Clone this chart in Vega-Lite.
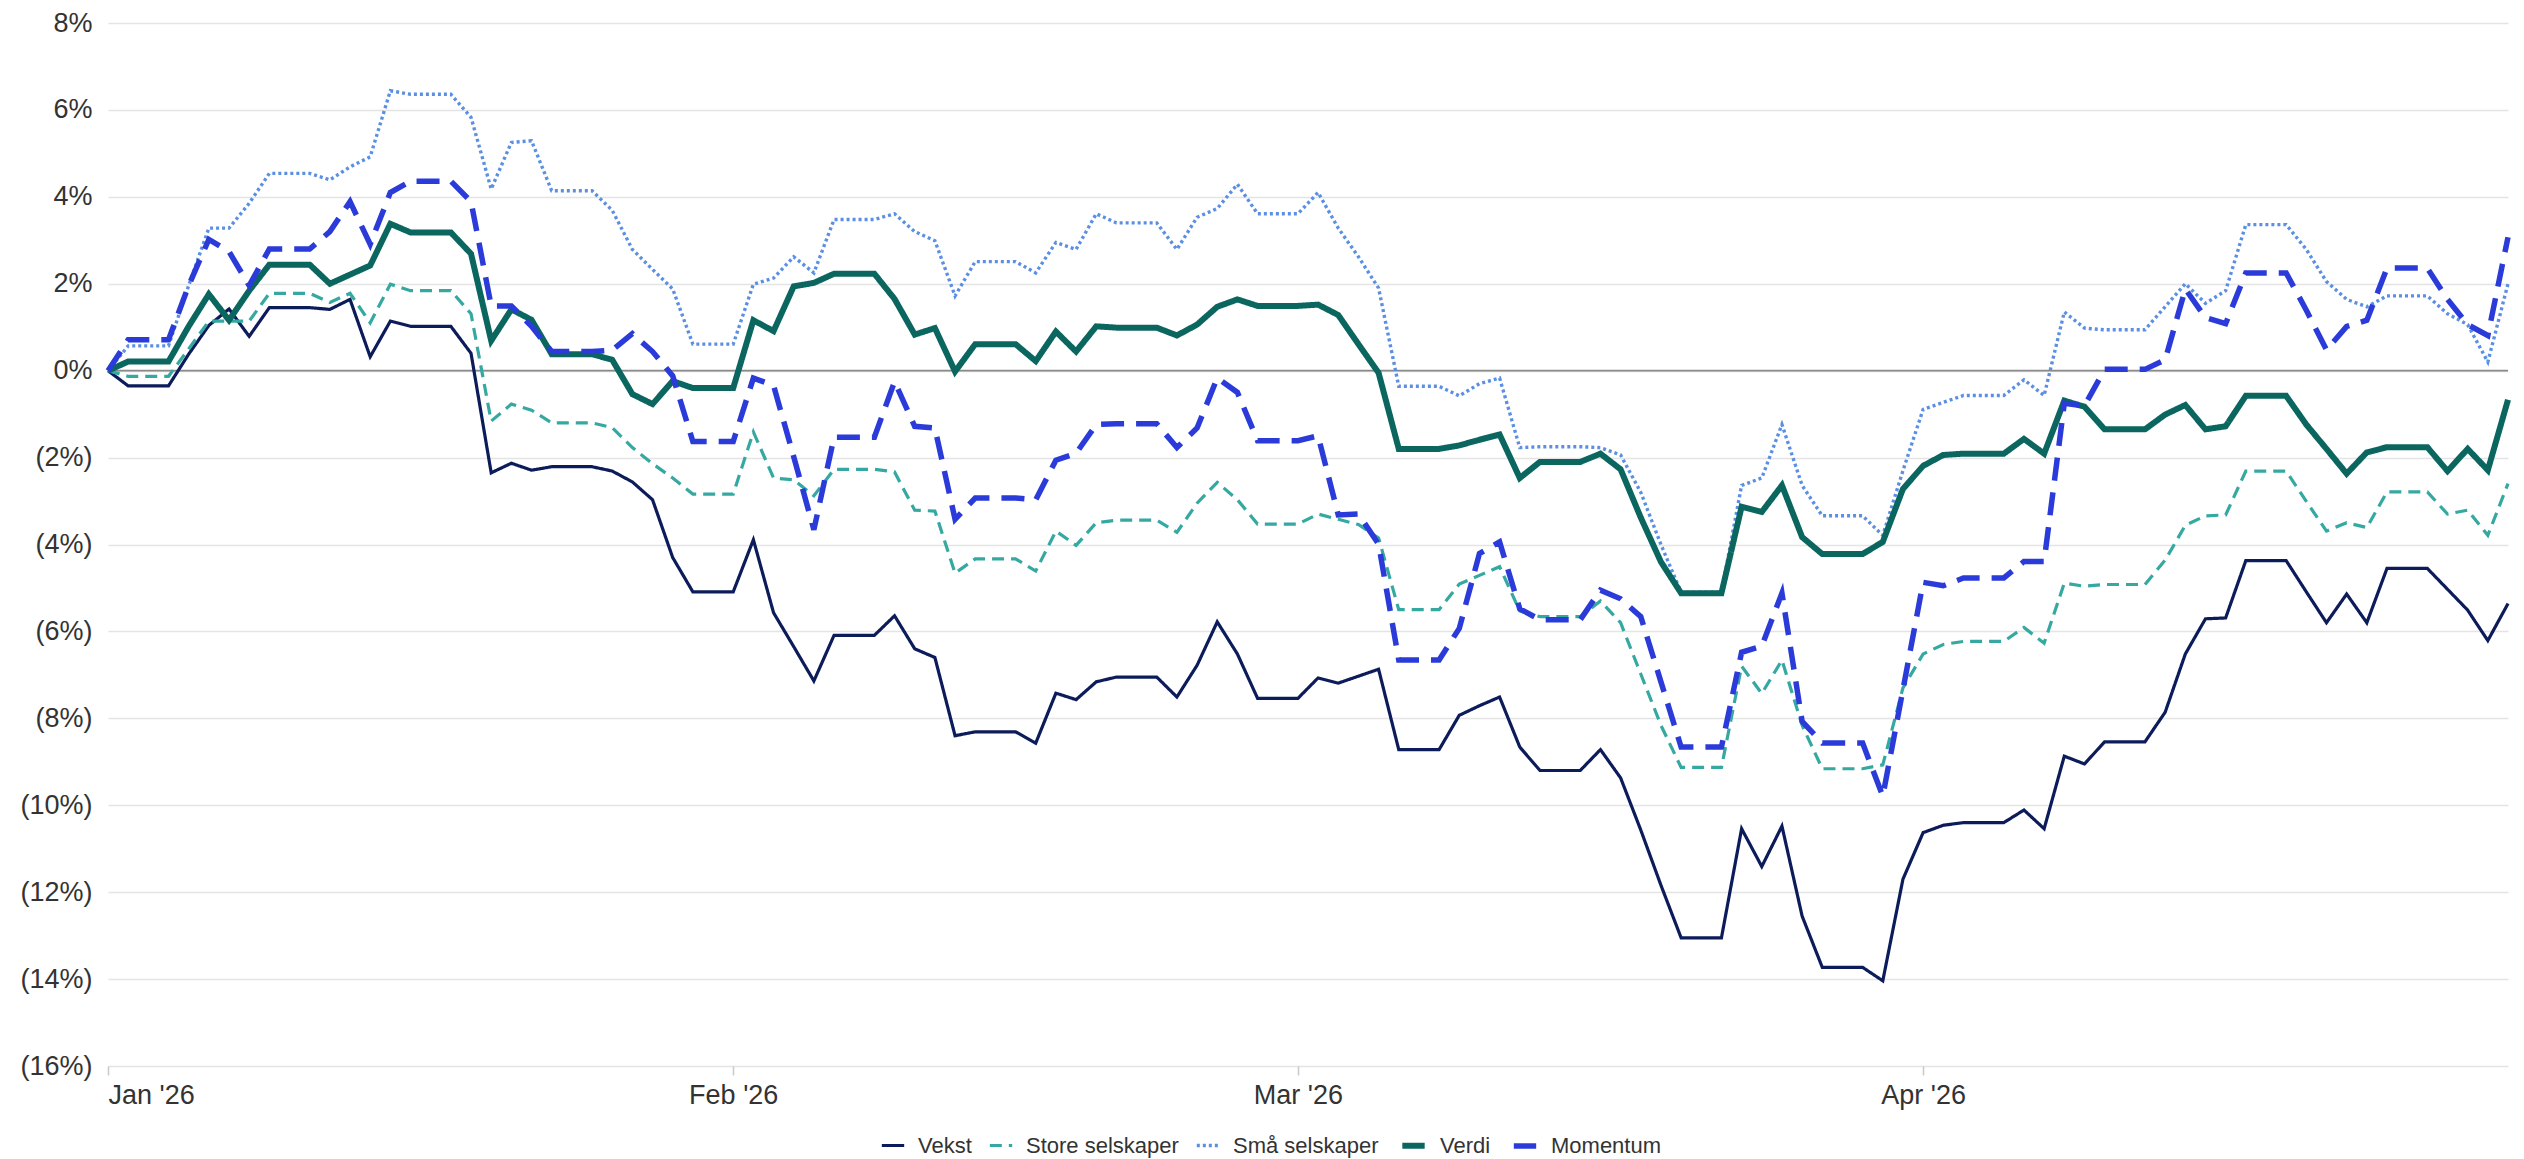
{
  "$schema": "https://vega.github.io/schema/vega-lite/v6.json",
  "width": 2400,
  "height": 1043,
  "autosize": "none",
  "padding": {"left": 108, "top": 23, "right": 16, "bottom": 93},
  "background": "white",
  "config": {"view": {"stroke": null}, "font": "Liberation Sans"},
  "layer": [
    {
      "data": {"values": [{"z": 0}]},
      "mark": {"type": "rule", "color": "#8a8a8a", "strokeWidth": 1.6},
      "encoding": {
        "y": {"field": "z", "type": "quantitative", "scale": {"domain": [-16, 8], "nice": false},
          "axis": {"title": null, "values": [-16,-14,-12,-10,-8,-6,-4,-2,0,2,4,6,8], "labelExpr": "datum.value < 0 ? '(' + abs(datum.value) + '%)' : datum.value + '%'", "grid": true, "gridColor": "#e4e4e4", "gridWidth": 1.4, "domain": false, "ticks": false, "labelPadding": 16, "labelFontSize": 27, "labelColor": "#333333", "labelFont": "Liberation Sans"}}
      }
    },
    {
      "data": {"values": [
        {"date":"2026-01-01","Vekst":0,"Store selskaper":0,"Små selskaper":0,"Verdi":0,"Momentum":0},
        {"date":"2026-01-02","Vekst":-0.35,"Store selskaper":-0.13,"Små selskaper":0.57,"Verdi":0.21,"Momentum":0.71},
        {"date":"2026-01-03","Vekst":-0.35,"Store selskaper":-0.13,"Små selskaper":0.57,"Verdi":0.21,"Momentum":0.71},
        {"date":"2026-01-04","Vekst":-0.35,"Store selskaper":-0.13,"Små selskaper":0.57,"Verdi":0.21,"Momentum":0.71},
        {"date":"2026-01-05","Vekst":0.38,"Store selskaper":0.5,"Små selskaper":1.96,"Verdi":1.02,"Momentum":1.96},
        {"date":"2026-01-06","Vekst":1.04,"Store selskaper":1.14,"Små selskaper":3.28,"Verdi":1.76,"Momentum":3.02},
        {"date":"2026-01-07","Vekst":1.42,"Store selskaper":1.14,"Små selskaper":3.28,"Verdi":1.16,"Momentum":2.74},
        {"date":"2026-01-08","Vekst":0.79,"Store selskaper":1.14,"Små selskaper":3.85,"Verdi":1.84,"Momentum":1.96},
        {"date":"2026-01-09","Vekst":1.45,"Store selskaper":1.78,"Små selskaper":4.54,"Verdi":2.44,"Momentum":2.8},
        {"date":"2026-01-10","Vekst":1.45,"Store selskaper":1.78,"Små selskaper":4.54,"Verdi":2.44,"Momentum":2.8},
        {"date":"2026-01-11","Vekst":1.45,"Store selskaper":1.78,"Små selskaper":4.54,"Verdi":2.44,"Momentum":2.8},
        {"date":"2026-01-12","Vekst":1.41,"Store selskaper":1.57,"Små selskaper":4.39,"Verdi":2.0,"Momentum":3.2},
        {"date":"2026-01-13","Vekst":1.64,"Store selskaper":1.78,"Små selskaper":4.69,"Verdi":2.21,"Momentum":3.89},
        {"date":"2026-01-14","Vekst":0.32,"Store selskaper":1.1,"Små selskaper":4.92,"Verdi":2.42,"Momentum":2.91},
        {"date":"2026-01-15","Vekst":1.14,"Store selskaper":1.99,"Små selskaper":6.44,"Verdi":3.38,"Momentum":4.1},
        {"date":"2026-01-16","Vekst":1.02,"Store selskaper":1.84,"Små selskaper":6.36,"Verdi":3.18,"Momentum":4.36},
        {"date":"2026-01-17","Vekst":1.02,"Store selskaper":1.84,"Små selskaper":6.36,"Verdi":3.18,"Momentum":4.36},
        {"date":"2026-01-18","Vekst":1.02,"Store selskaper":1.84,"Små selskaper":6.36,"Verdi":3.18,"Momentum":4.36},
        {"date":"2026-01-19","Vekst":0.4,"Store selskaper":1.31,"Små selskaper":5.83,"Verdi":2.69,"Momentum":3.89},
        {"date":"2026-01-20","Vekst":-2.35,"Store selskaper":-1.16,"Små selskaper":4.18,"Verdi":0.69,"Momentum":1.49},
        {"date":"2026-01-21","Vekst":-2.13,"Store selskaper":-0.77,"Små selskaper":5.25,"Verdi":1.41,"Momentum":1.49},
        {"date":"2026-01-22","Vekst":-2.29,"Store selskaper":-0.91,"Små selskaper":5.29,"Verdi":1.17,"Momentum":1.02},
        {"date":"2026-01-23","Vekst":-2.21,"Store selskaper":-1.2,"Små selskaper":4.14,"Verdi":0.38,"Momentum":0.44},
        {"date":"2026-01-24","Vekst":-2.21,"Store selskaper":-1.2,"Små selskaper":4.14,"Verdi":0.38,"Momentum":0.44},
        {"date":"2026-01-25","Vekst":-2.21,"Store selskaper":-1.2,"Små selskaper":4.14,"Verdi":0.38,"Momentum":0.44},
        {"date":"2026-01-26","Vekst":-2.31,"Store selskaper":-1.31,"Små selskaper":3.69,"Verdi":0.25,"Momentum":0.47},
        {"date":"2026-01-27","Vekst":-2.56,"Store selskaper":-1.77,"Små selskaper":2.79,"Verdi":-0.54,"Momentum":0.85},
        {"date":"2026-01-28","Vekst":-2.97,"Store selskaper":-2.14,"Små selskaper":2.33,"Verdi":-0.77,"Momentum":0.44},
        {"date":"2026-01-29","Vekst":-4.3,"Store selskaper":-2.47,"Små selskaper":1.88,"Verdi":-0.24,"Momentum":-0.12},
        {"date":"2026-01-30","Vekst":-5.09,"Store selskaper":-2.84,"Små selskaper":0.61,"Verdi":-0.4,"Momentum":-1.63},
        {"date":"2026-01-31","Vekst":-5.09,"Store selskaper":-2.84,"Små selskaper":0.61,"Verdi":-0.4,"Momentum":-1.63},
        {"date":"2026-02-01","Vekst":-5.09,"Store selskaper":-2.84,"Små selskaper":0.61,"Verdi":-0.4,"Momentum":-1.63},
        {"date":"2026-02-02","Vekst":-3.89,"Store selskaper":-1.41,"Små selskaper":1.99,"Verdi":1.16,"Momentum":-0.17},
        {"date":"2026-02-03","Vekst":-5.57,"Store selskaper":-2.47,"Små selskaper":2.13,"Verdi":0.91,"Momentum":-0.34},
        {"date":"2026-02-04","Vekst":-6.35,"Store selskaper":-2.51,"Små selskaper":2.62,"Verdi":1.94,"Momentum":-1.98},
        {"date":"2026-02-05","Vekst":-7.14,"Store selskaper":-2.88,"Små selskaper":2.25,"Verdi":2.02,"Momentum":-3.66},
        {"date":"2026-02-06","Vekst":-6.09,"Store selskaper":-2.27,"Små selskaper":3.48,"Verdi":2.23,"Momentum":-1.53},
        {"date":"2026-02-07","Vekst":-6.09,"Store selskaper":-2.27,"Små selskaper":3.48,"Verdi":2.23,"Momentum":-1.53},
        {"date":"2026-02-08","Vekst":-6.09,"Store selskaper":-2.27,"Små selskaper":3.48,"Verdi":2.23,"Momentum":-1.53},
        {"date":"2026-02-09","Vekst":-5.64,"Store selskaper":-2.33,"Små selskaper":3.61,"Verdi":1.65,"Momentum":-0.25},
        {"date":"2026-02-10","Vekst":-6.4,"Store selskaper":-3.21,"Små selskaper":3.2,"Verdi":0.83,"Momentum":-1.28},
        {"date":"2026-02-11","Vekst":-6.6,"Store selskaper":-3.23,"Små selskaper":2.99,"Verdi":0.98,"Momentum":-1.32},
        {"date":"2026-02-12","Vekst":-8.4,"Store selskaper":-4.66,"Små selskaper":1.72,"Verdi":-0.02,"Momentum":-3.42},
        {"date":"2026-02-13","Vekst":-8.31,"Store selskaper":-4.33,"Små selskaper":2.51,"Verdi":0.61,"Momentum":-2.93},
        {"date":"2026-02-14","Vekst":-8.31,"Store selskaper":-4.33,"Små selskaper":2.51,"Verdi":0.61,"Momentum":-2.93},
        {"date":"2026-02-15","Vekst":-8.31,"Store selskaper":-4.33,"Små selskaper":2.51,"Verdi":0.61,"Momentum":-2.93},
        {"date":"2026-02-16","Vekst":-8.57,"Store selskaper":-4.61,"Små selskaper":2.25,"Verdi":0.22,"Momentum":-2.97},
        {"date":"2026-02-17","Vekst":-7.42,"Store selskaper":-3.69,"Små selskaper":2.95,"Verdi":0.9,"Momentum":-2.06},
        {"date":"2026-02-18","Vekst":-7.57,"Store selskaper":-4.02,"Små selskaper":2.79,"Verdi":0.44,"Momentum":-1.9},
        {"date":"2026-02-19","Vekst":-7.16,"Store selskaper":-3.5,"Små selskaper":3.61,"Verdi":1.02,"Momentum":-1.24},
        {"date":"2026-02-20","Vekst":-7.05,"Store selskaper":-3.44,"Små selskaper":3.4,"Verdi":0.99,"Momentum":-1.22},
        {"date":"2026-02-21","Vekst":-7.05,"Store selskaper":-3.44,"Små selskaper":3.4,"Verdi":0.99,"Momentum":-1.22},
        {"date":"2026-02-22","Vekst":-7.05,"Store selskaper":-3.44,"Små selskaper":3.4,"Verdi":0.99,"Momentum":-1.22},
        {"date":"2026-02-23","Vekst":-7.51,"Store selskaper":-3.72,"Små selskaper":2.79,"Verdi":0.81,"Momentum":-1.77},
        {"date":"2026-02-24","Vekst":-6.78,"Store selskaper":-3.05,"Små selskaper":3.53,"Verdi":1.06,"Momentum":-1.32},
        {"date":"2026-02-25","Vekst":-5.78,"Store selskaper":-2.57,"Små selskaper":3.73,"Verdi":1.47,"Momentum":-0.17},
        {"date":"2026-02-26","Vekst":-6.52,"Store selskaper":-2.97,"Små selskaper":4.29,"Verdi":1.64,"Momentum":-0.5},
        {"date":"2026-02-27","Vekst":-7.54,"Store selskaper":-3.53,"Små selskaper":3.61,"Verdi":1.49,"Momentum":-1.61},
        {"date":"2026-02-28","Vekst":-7.54,"Store selskaper":-3.53,"Små selskaper":3.61,"Verdi":1.49,"Momentum":-1.61},
        {"date":"2026-03-01","Vekst":-7.54,"Store selskaper":-3.53,"Små selskaper":3.61,"Verdi":1.49,"Momentum":-1.61},
        {"date":"2026-03-02","Vekst":-7.07,"Store selskaper":-3.3,"Små selskaper":4.1,"Verdi":1.52,"Momentum":-1.5},
        {"date":"2026-03-03","Vekst":-7.19,"Store selskaper":-3.42,"Små selskaper":3.28,"Verdi":1.28,"Momentum":-3.32},
        {"date":"2026-03-04","Vekst":-7.03,"Store selskaper":-3.54,"Små selskaper":2.62,"Verdi":0.61,"Momentum":-3.3},
        {"date":"2026-03-05","Vekst":-6.87,"Store selskaper":-3.85,"Små selskaper":1.9,"Verdi":-0.05,"Momentum":-3.99},
        {"date":"2026-03-06","Vekst":-8.72,"Store selskaper":-5.5,"Små selskaper":-0.36,"Verdi":-1.8,"Momentum":-6.66},
        {"date":"2026-03-07","Vekst":-8.72,"Store selskaper":-5.5,"Små selskaper":-0.36,"Verdi":-1.8,"Momentum":-6.66},
        {"date":"2026-03-08","Vekst":-8.72,"Store selskaper":-5.5,"Små selskaper":-0.36,"Verdi":-1.8,"Momentum":-6.66},
        {"date":"2026-03-09","Vekst":-7.93,"Store selskaper":-4.91,"Små selskaper":-0.58,"Verdi":-1.72,"Momentum":-5.93},
        {"date":"2026-03-10","Vekst":-7.71,"Store selskaper":-4.71,"Små selskaper":-0.3,"Verdi":-1.59,"Momentum":-4.21},
        {"date":"2026-03-11","Vekst":-7.51,"Store selskaper":-4.51,"Små selskaper":-0.17,"Verdi":-1.47,"Momentum":-3.94},
        {"date":"2026-03-12","Vekst":-8.66,"Store selskaper":-5.53,"Små selskaper":-1.77,"Verdi":-2.47,"Momentum":-5.48},
        {"date":"2026-03-13","Vekst":-9.2,"Store selskaper":-5.66,"Små selskaper":-1.75,"Verdi":-2.1,"Momentum":-5.73},
        {"date":"2026-03-14","Vekst":-9.2,"Store selskaper":-5.66,"Små selskaper":-1.75,"Verdi":-2.1,"Momentum":-5.73},
        {"date":"2026-03-15","Vekst":-9.2,"Store selskaper":-5.66,"Små selskaper":-1.75,"Verdi":-2.1,"Momentum":-5.73},
        {"date":"2026-03-16","Vekst":-8.72,"Store selskaper":-5.3,"Små selskaper":-1.77,"Verdi":-1.91,"Momentum":-5.05},
        {"date":"2026-03-17","Vekst":-9.37,"Store selskaper":-5.8,"Små selskaper":-1.94,"Verdi":-2.27,"Momentum":-5.25},
        {"date":"2026-03-18","Vekst":-10.57,"Store selskaper":-6.98,"Små selskaper":-2.8,"Verdi":-3.38,"Momentum":-5.66},
        {"date":"2026-03-19","Vekst":-11.84,"Store selskaper":-8.16,"Små selskaper":-4.0,"Verdi":-4.4,"Momentum":-7.16},
        {"date":"2026-03-20","Vekst":-13.05,"Store selskaper":-9.13,"Små selskaper":-5.1,"Verdi":-5.12,"Momentum":-8.66},
        {"date":"2026-03-21","Vekst":-13.05,"Store selskaper":-9.13,"Små selskaper":-5.1,"Verdi":-5.12,"Momentum":-8.66},
        {"date":"2026-03-22","Vekst":-13.05,"Store selskaper":-9.13,"Små selskaper":-5.1,"Verdi":-5.12,"Momentum":-8.66},
        {"date":"2026-03-23","Vekst":-10.54,"Store selskaper":-6.8,"Små selskaper":-2.64,"Verdi":-3.13,"Momentum":-6.48},
        {"date":"2026-03-24","Vekst":-11.41,"Store selskaper":-7.43,"Små selskaper":-2.47,"Verdi":-3.25,"Momentum":-6.34},
        {"date":"2026-03-25","Vekst":-10.48,"Store selskaper":-6.66,"Små selskaper":-1.24,"Verdi":-2.64,"Momentum":-5.12},
        {"date":"2026-03-26","Vekst":-12.55,"Store selskaper":-8.16,"Små selskaper":-2.64,"Verdi":-3.83,"Momentum":-8.07},
        {"date":"2026-03-27","Vekst":-13.73,"Store selskaper":-9.16,"Små selskaper":-3.34,"Verdi":-4.22,"Momentum":-8.57},
        {"date":"2026-03-28","Vekst":-13.73,"Store selskaper":-9.16,"Små selskaper":-3.34,"Verdi":-4.22,"Momentum":-8.57},
        {"date":"2026-03-29","Vekst":-13.73,"Store selskaper":-9.16,"Små selskaper":-3.34,"Verdi":-4.22,"Momentum":-8.57},
        {"date":"2026-03-30","Vekst":-14.04,"Store selskaper":-9.07,"Små selskaper":-3.79,"Verdi":-3.94,"Momentum":-9.79},
        {"date":"2026-03-31","Vekst":-11.7,"Store selskaper":-7.3,"Små selskaper":-2.3,"Verdi":-2.72,"Momentum":-7.34},
        {"date":"2026-04-01","Vekst":-10.63,"Store selskaper":-6.52,"Små selskaper":-0.89,"Verdi":-2.19,"Momentum":-4.87},
        {"date":"2026-04-02","Vekst":-10.46,"Store selskaper":-6.3,"Små selskaper":-0.73,"Verdi":-1.94,"Momentum":-4.95},
        {"date":"2026-04-03","Vekst":-10.4,"Store selskaper":-6.23,"Små selskaper":-0.57,"Verdi":-1.91,"Momentum":-4.77},
        {"date":"2026-04-04","Vekst":-10.4,"Store selskaper":-6.23,"Små selskaper":-0.57,"Verdi":-1.91,"Momentum":-4.77},
        {"date":"2026-04-05","Vekst":-10.4,"Store selskaper":-6.23,"Små selskaper":-0.57,"Verdi":-1.91,"Momentum":-4.77},
        {"date":"2026-04-06","Vekst":-10.11,"Store selskaper":-5.91,"Små selskaper":-0.21,"Verdi":-1.57,"Momentum":-4.39},
        {"date":"2026-04-07","Vekst":-10.54,"Store selskaper":-6.27,"Små selskaper":-0.57,"Verdi":-1.91,"Momentum":-4.39},
        {"date":"2026-04-08","Vekst":-8.87,"Store selskaper":-4.89,"Små selskaper":1.35,"Verdi":-0.69,"Momentum":-0.75},
        {"date":"2026-04-09","Vekst":-9.05,"Store selskaper":-4.96,"Små selskaper":0.98,"Verdi":-0.83,"Momentum":-0.81},
        {"date":"2026-04-10","Vekst":-8.54,"Store selskaper":-4.92,"Små selskaper":0.94,"Verdi":-1.35,"Momentum":0.03},
        {"date":"2026-04-11","Vekst":-8.54,"Store selskaper":-4.92,"Små selskaper":0.94,"Verdi":-1.35,"Momentum":0.03},
        {"date":"2026-04-12","Vekst":-8.54,"Store selskaper":-4.92,"Små selskaper":0.94,"Verdi":-1.35,"Momentum":0.03},
        {"date":"2026-04-13","Vekst":-7.86,"Store selskaper":-4.36,"Små selskaper":1.47,"Verdi":-1.01,"Momentum":0.25},
        {"date":"2026-04-14","Vekst":-6.52,"Store selskaper":-3.56,"Små selskaper":2.0,"Verdi":-0.79,"Momentum":1.88},
        {"date":"2026-04-15","Vekst":-5.71,"Store selskaper":-3.34,"Små selskaper":1.55,"Verdi":-1.35,"Momentum":1.22},
        {"date":"2026-04-16","Vekst":-5.69,"Store selskaper":-3.32,"Små selskaper":1.84,"Verdi":-1.28,"Momentum":1.08},
        {"date":"2026-04-17","Vekst":-4.37,"Store selskaper":-2.31,"Små selskaper":3.36,"Verdi":-0.58,"Momentum":2.25},
        {"date":"2026-04-18","Vekst":-4.37,"Store selskaper":-2.31,"Små selskaper":3.36,"Verdi":-0.58,"Momentum":2.25},
        {"date":"2026-04-19","Vekst":-4.37,"Store selskaper":-2.31,"Små selskaper":3.36,"Verdi":-0.58,"Momentum":2.25},
        {"date":"2026-04-20","Vekst":-5.09,"Store selskaper":-3.01,"Små selskaper":2.79,"Verdi":-1.24,"Momentum":1.39},
        {"date":"2026-04-21","Vekst":-5.8,"Store selskaper":-3.69,"Små selskaper":2.05,"Verdi":-1.8,"Momentum":0.48},
        {"date":"2026-04-22","Vekst":-5.14,"Store selskaper":-3.5,"Små selskaper":1.64,"Verdi":-2.37,"Momentum":1.02},
        {"date":"2026-04-23","Vekst":-5.8,"Store selskaper":-3.61,"Små selskaper":1.47,"Verdi":-1.88,"Momentum":1.16},
        {"date":"2026-04-24","Vekst":-4.55,"Store selskaper":-2.79,"Små selskaper":1.72,"Verdi":-1.76,"Momentum":2.36},
        {"date":"2026-04-25","Vekst":-4.55,"Store selskaper":-2.79,"Små selskaper":1.72,"Verdi":-1.76,"Momentum":2.36},
        {"date":"2026-04-26","Vekst":-4.55,"Store selskaper":-2.79,"Små selskaper":1.72,"Verdi":-1.76,"Momentum":2.36},
        {"date":"2026-04-27","Vekst":-5.03,"Store selskaper":-3.3,"Små selskaper":1.31,"Verdi":-2.31,"Momentum":1.64},
        {"date":"2026-04-28","Vekst":-5.51,"Store selskaper":-3.21,"Små selskaper":1.06,"Verdi":-1.8,"Momentum":1.06},
        {"date":"2026-04-29","Vekst":-6.21,"Store selskaper":-3.79,"Små selskaper":0.2,"Verdi":-2.29,"Momentum":0.81},
        {"date":"2026-04-30","Vekst":-5.36,"Store selskaper":-2.6,"Små selskaper":2.0,"Verdi":-0.67,"Momentum":3.07}
      ]},
      "transform": [{"fold": ["Vekst", "Store selskaper", "Små selskaper", "Verdi", "Momentum"], "as": ["serie", "verdi"]}],
      "mark": {"type": "line", "strokeJoin": "miter", "strokeCap": "butt"},
      "encoding": {
        "x": {"field": "date", "type": "temporal",
          "scale": {"type": "utc", "domain": [{"year": 2026, "month": 1, "date": 1, "utc": true}, {"year": 2026, "month": 4, "date": 30, "utc": true}]},
          "axis": {"title": null, "values": [{"year": 2026, "month": 1, "date": 1, "utc": true}, {"year": 2026, "month": 2, "date": 1, "utc": true}, {"year": 2026, "month": 3, "date": 1, "utc": true}, {"year": 2026, "month": 4, "date": 1, "utc": true}],
            "format": "%b '%y", "grid": false, "domain": false, "ticks": true, "tickColor": "#c8c8c8", "tickWidth": 1.5, "tickSize": 9, "labelPadding": 7, "labelFontSize": 27, "labelColor": "#333333", "labelFont": "Liberation Sans"}},
        "y": {"field": "verdi", "type": "quantitative", "scale": {"domain": [-16, 8], "nice": false},
          "axis": {"title": null, "values": [-16,-14,-12,-10,-8,-6,-4,-2,0,2,4,6,8], "labelExpr": "datum.value < 0 ? '(' + abs(datum.value) + '%)' : datum.value + '%'", "grid": true, "gridColor": "#e4e4e4", "gridWidth": 1.4, "domain": false, "ticks": false, "labelPadding": 16, "labelFontSize": 27, "labelColor": "#333333", "labelFont": "Liberation Sans"}},
        "color": {"field": "serie", "type": "ordinal",
          "scale": {"domain": ["Vekst", "Store selskaper", "Små selskaper", "Verdi", "Momentum"], "range": ["#0c1b5a", "#35a9a1", "#5b8fe3", "#0a665f", "#2b3bd9"]},
          "legend": {"title": null, "orient": "none", "legendX": 772, "legendY": 1108, "direction": "horizontal", "symbolType": "stroke", "symbolSize": 500, "labelFontSize": 22, "labelColor": "#333333", "labelFont": "Liberation Sans", "columnPadding": 11, "labelOffset": 12}},
        "strokeDash": {"field": "serie", "type": "ordinal",
          "scale": {"domain": ["Vekst", "Store selskaper", "Små selskaper", "Verdi", "Momentum"], "range": [[1, 0], [12, 7], [3, 3], [1, 0], [23, 12]]},
          "legend": {"title": null, "orient": "none", "legendX": 772, "legendY": 1108, "direction": "horizontal", "symbolType": "stroke", "symbolSize": 500, "labelFontSize": 22, "labelColor": "#333333", "labelFont": "Liberation Sans", "columnPadding": 11, "labelOffset": 12}},
        "strokeWidth": {"field": "serie", "type": "ordinal",
          "scale": {"type": "ordinal", "domain": ["Vekst", "Store selskaper", "Små selskaper", "Verdi", "Momentum"], "range": [3.2, 3.2, 3.4, 6, 5.5]},
          "legend": {"title": null, "orient": "none", "legendX": 772, "legendY": 1108, "direction": "horizontal", "symbolType": "stroke", "symbolSize": 500, "labelFontSize": 22, "labelColor": "#333333", "labelFont": "Liberation Sans", "columnPadding": 11, "labelOffset": 12}}
      }
    }
  ]
}
